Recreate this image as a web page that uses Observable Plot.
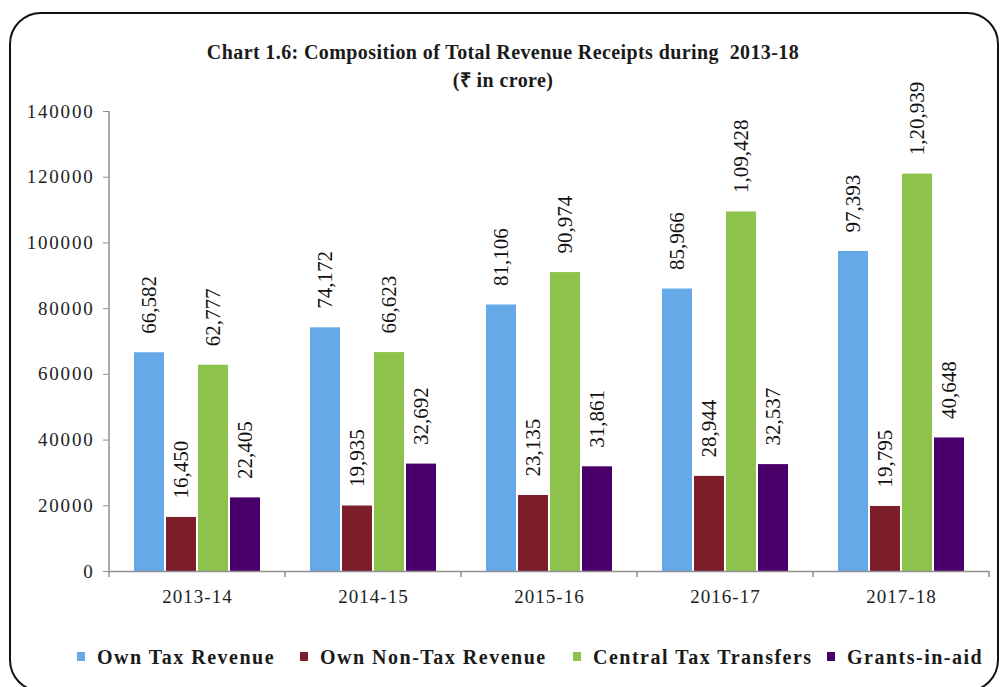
<!DOCTYPE html>
<html>
<head>
<meta charset="utf-8">
<script src="https://cdn.jsdelivr.net/npm/d3@7"></script>
<script src="https://cdn.jsdelivr.net/npm/@observablehq/plot@0.6"></script>
<style>
  html, body { margin: 0; padding: 0; background: #fff; }
  #wrap { position: relative; width: 1006px; height: 687px; overflow: hidden; background: #fff; font-family: "Liberation Serif", "Times New Roman", serif; }
  #frame { position: absolute; left: 9px; top: 12px; width: 990px; height: 680px; border: 2px solid #111; border-radius: 32px; box-sizing: border-box; }
  .title { position: absolute; left: 0; width: 1006px; text-align: center; font-weight: bold; font-size: 20px; color: #1a1a1a; white-space: pre; letter-spacing: 0.4px; }
  #chart { position: absolute; left: 0; top: 0; }
  .leg { position: absolute; top: 645px; font-weight: bold; font-size: 20px; color: #1a1a1a; letter-spacing: 1.5px; white-space: nowrap; line-height: 24px; }
  .sw { position: absolute; width: 8px; height: 9px; top: 652px; }
</style>
</head>
<body>
<div id="wrap">
  <div id="frame"></div>
  <div class="title" style="top:41px">Chart 1.6: Composition of Total Revenue Receipts during  2013-18</div>
  <div class="title" style="top:66px">(₹ in crore)</div>
  <div id="chart"></div>
  <div id="legend"></div>
</div>
<script>
const years = ["2013-14", "2014-15", "2015-16", "2016-17", "2017-18"];
const series = ["Own Tax Revenue", "Own Non-Tax Revenue", "Central Tax Transfers", "Grants-in-aid"];
const ownTaxRevenue = [66582, 74172, 81106, 85966, 97393];
const ownNonTaxRevenue = [16450, 19935, 23135, 28944, 19795];
const centralTaxTransfers = [62777, 66623, 90974, 109428, 120939];
const grantsInAid = [22405, 32692, 31861, 32537, 40648];
const colors = ["#66a9e9", "#7d1f2b", "#8dc24c", "#4a006a"];
const yTicks = [0, 20000, 40000, 60000, 80000, 100000, 120000, 140000];

const seriesValues = [ownTaxRevenue, ownNonTaxRevenue, centralTaxTransfers, grantsInAid];
const data = years.flatMap((yr, i) => series.map((s, j) => ({year: yr, series: s, value: seriesValues[j][i]})));
const fmt = v => v.toLocaleString("en-IN");

const chart = Plot.plot({
  width: 1006,
  height: 687,
  marginTop: 111,
  marginBottom: 116,
  marginLeft: 107,
  marginRight: 15,
  style: {fontFamily: "Liberation Serif, Times New Roman, serif", fontSize: "19px", background: "transparent", color: "#222", overflow: "visible"},
  y: {domain: [0, 140000]},
  x: {domain: series, paddingInner: 0.07, paddingOuter: 0.77, axis: null},
  fx: {domain: years, padding: 0},
  color: {domain: series, range: colors},
  marks: [
    Plot.barY(data, {fx: "year", x: "series", y: "value", fill: "series"}),
    Plot.ruleY([0], {stroke: "#8f8f8f", strokeWidth: 1.5}),
    Plot.text(data, {fx: "year", x: "series", y: "value", text: d => fmt(d.value), rotate: -90, textAnchor: "start", lineAnchor: "middle", dy: -19, fontSize: 21, fill: "#111"}),
    Plot.axisY({ticks: yTicks, tickSize: 6, tickPadding: 9, stroke: "#8f8f8f", fill: "#222", tickFormat: d => String(d), label: null}),
    Plot.axisFx({anchor: "bottom", tickSize: 0, tickPadding: 18, fill: "#222", label: null})
  ]
});
document.getElementById("chart").appendChild(chart);

// axis text spacing (the reference text is slightly wide)
const svg = d3.select(chart);
svg.selectAll("g[aria-label='y-axis tick label'] text, g[aria-label='fx-axis tick label'] text").style("letter-spacing", "1.8px");
svg.selectAll("g[aria-label='fx-axis tick label'] text").style("letter-spacing", "1px");

// axis decorations (Excel style) using the plot's own scales
const sx = chart.scale("fx");
const sy = chart.scale("y");
const y0 = sy.apply(0);
const yTop = sy.apply(140000);
const g = svg.append("g").attr("stroke", "#8f8f8f").attr("stroke-width", 1.5);
g.append("line").attr("x1", sx.apply(years[0])).attr("x2", sx.apply(years[0])).attr("y1", yTop).attr("y2", y0);
const edges = years.map(y => sx.apply(y)).concat([sx.apply(years[years.length - 1]) + sx.bandwidth]);
edges.forEach(x => g.append("line").attr("x1", x).attr("x2", x).attr("y1", y0).attr("y2", y0 + 6));

// legend
const legendLeft = [77, 300, 573, 827];
const leg = d3.select("#legend");
series.forEach((s, i) => {
  leg.append("div").attr("class", "sw").style("left", legendLeft[i] + "px").style("background", colors[i]);
  leg.append("div").attr("class", "leg").style("left", (legendLeft[i] + 20) + "px").text(s);
});
</script>
</body>
</html>
